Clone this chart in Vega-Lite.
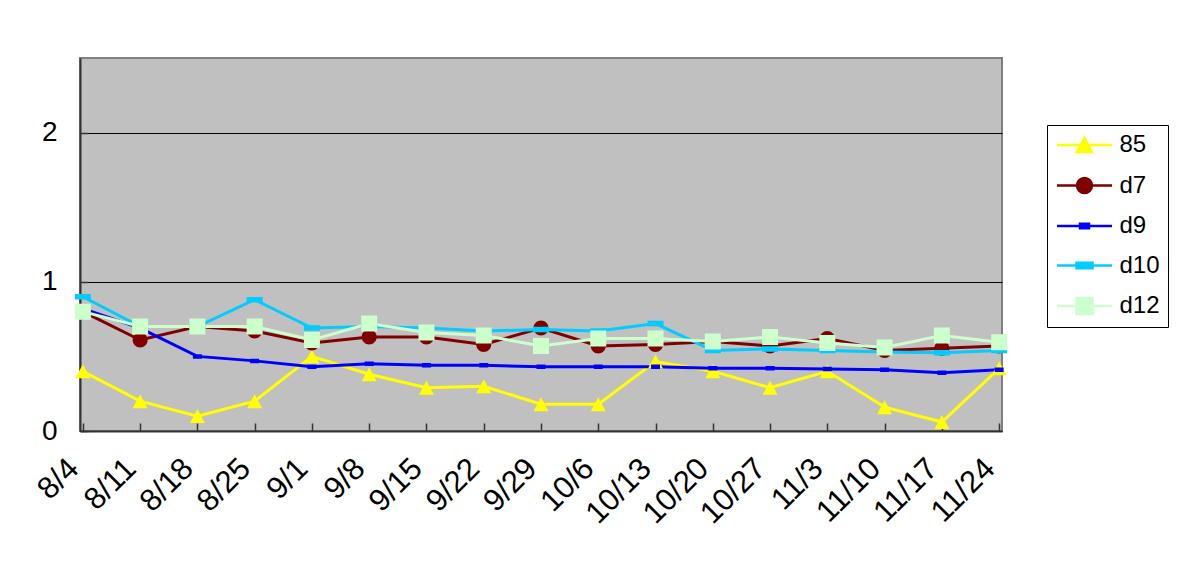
{
  "$schema": "https://vega.github.io/schema/vega-lite/v6.json",
  "width": 922,
  "height": 373,
  "autosize": {"type": "none"},
  "padding": {"left": 80, "top": 58, "right": 179, "bottom": 130},
  "background": "white",
  "config": {
    "font": "Liberation Sans",
    "view": {"fill": "#C0C0C0", "stroke": "#808080", "strokeWidth": 2},
    "legend": {
      "orient": "none",
      "legendX": 967,
      "legendY": 67,
      "fillColor": "white",
      "strokeColor": "black",
      "padding": 8,
      "rowPadding": 15.5,
      "labelFontSize": 24,
      "labelColor": "black",
      "labelFont": "Liberation Sans",
      "symbolSize": 100,
      "symbolStrokeWidth": 2.5,
      "symbolOffset": 17.5,
      "labelOffset": 23
    }
  },
  "data": {
    "values": [
      {"n": 1, "date": "8/4", "series": "85", "value": 0.40},
      {"n": 2, "date": "8/11", "series": "85", "value": 0.20},
      {"n": 3, "date": "8/18", "series": "85", "value": 0.10},
      {"n": 4, "date": "8/25", "series": "85", "value": 0.20},
      {"n": 5, "date": "9/1", "series": "85", "value": 0.50},
      {"n": 6, "date": "9/8", "series": "85", "value": 0.38},
      {"n": 7, "date": "9/15", "series": "85", "value": 0.29},
      {"n": 8, "date": "9/22", "series": "85", "value": 0.30},
      {"n": 9, "date": "9/29", "series": "85", "value": 0.18},
      {"n": 10, "date": "10/6", "series": "85", "value": 0.18},
      {"n": 11, "date": "10/13", "series": "85", "value": 0.465},
      {"n": 12, "date": "10/20", "series": "85", "value": 0.40},
      {"n": 13, "date": "10/27", "series": "85", "value": 0.29},
      {"n": 14, "date": "11/3", "series": "85", "value": 0.40},
      {"n": 15, "date": "11/10", "series": "85", "value": 0.16},
      {"n": 16, "date": "11/17", "series": "85", "value": 0.06},
      {"n": 17, "date": "11/24", "series": "85", "value": 0.42},
      {"n": 1, "date": "8/4", "series": "d7", "value": 0.80},
      {"n": 2, "date": "8/11", "series": "d7", "value": 0.61},
      {"n": 3, "date": "8/18", "series": "d7", "value": 0.70},
      {"n": 4, "date": "8/25", "series": "d7", "value": 0.67},
      {"n": 5, "date": "9/1", "series": "d7", "value": 0.59},
      {"n": 6, "date": "9/8", "series": "d7", "value": 0.63},
      {"n": 7, "date": "9/15", "series": "d7", "value": 0.63},
      {"n": 8, "date": "9/22", "series": "d7", "value": 0.58},
      {"n": 9, "date": "9/29", "series": "d7", "value": 0.69},
      {"n": 10, "date": "10/6", "series": "d7", "value": 0.57},
      {"n": 11, "date": "10/13", "series": "d7", "value": 0.58},
      {"n": 12, "date": "10/20", "series": "d7", "value": 0.60},
      {"n": 13, "date": "10/27", "series": "d7", "value": 0.57},
      {"n": 14, "date": "11/3", "series": "d7", "value": 0.62},
      {"n": 15, "date": "11/10", "series": "d7", "value": 0.54},
      {"n": 16, "date": "11/17", "series": "d7", "value": 0.555},
      {"n": 17, "date": "11/24", "series": "d7", "value": 0.57},
      {"n": 1, "date": "8/4", "series": "d9", "value": 0.82},
      {"n": 2, "date": "8/11", "series": "d9", "value": 0.69},
      {"n": 3, "date": "8/18", "series": "d9", "value": 0.50},
      {"n": 4, "date": "8/25", "series": "d9", "value": 0.47},
      {"n": 5, "date": "9/1", "series": "d9", "value": 0.43},
      {"n": 6, "date": "9/8", "series": "d9", "value": 0.45},
      {"n": 7, "date": "9/15", "series": "d9", "value": 0.44},
      {"n": 8, "date": "9/22", "series": "d9", "value": 0.44},
      {"n": 9, "date": "9/29", "series": "d9", "value": 0.43},
      {"n": 10, "date": "10/6", "series": "d9", "value": 0.43},
      {"n": 11, "date": "10/13", "series": "d9", "value": 0.43},
      {"n": 12, "date": "10/20", "series": "d9", "value": 0.42},
      {"n": 13, "date": "10/27", "series": "d9", "value": 0.42},
      {"n": 14, "date": "11/3", "series": "d9", "value": 0.415},
      {"n": 15, "date": "11/10", "series": "d9", "value": 0.41},
      {"n": 16, "date": "11/17", "series": "d9", "value": 0.39},
      {"n": 17, "date": "11/24", "series": "d9", "value": 0.41},
      {"n": 1, "date": "8/4", "series": "d10", "value": 0.90},
      {"n": 2, "date": "8/11", "series": "d10", "value": 0.70},
      {"n": 3, "date": "8/18", "series": "d10", "value": 0.70},
      {"n": 4, "date": "8/25", "series": "d10", "value": 0.88},
      {"n": 5, "date": "9/1", "series": "d10", "value": 0.69},
      {"n": 6, "date": "9/8", "series": "d10", "value": 0.70},
      {"n": 7, "date": "9/15", "series": "d10", "value": 0.69},
      {"n": 8, "date": "9/22", "series": "d10", "value": 0.67},
      {"n": 9, "date": "9/29", "series": "d10", "value": 0.68},
      {"n": 10, "date": "10/6", "series": "d10", "value": 0.67},
      {"n": 11, "date": "10/13", "series": "d10", "value": 0.72},
      {"n": 12, "date": "10/20", "series": "d10", "value": 0.54},
      {"n": 13, "date": "10/27", "series": "d10", "value": 0.55},
      {"n": 14, "date": "11/3", "series": "d10", "value": 0.54},
      {"n": 15, "date": "11/10", "series": "d10", "value": 0.53},
      {"n": 16, "date": "11/17", "series": "d10", "value": 0.525},
      {"n": 17, "date": "11/24", "series": "d10", "value": 0.54},
      {"n": 1, "date": "8/4", "series": "d12", "value": 0.80},
      {"n": 2, "date": "8/11", "series": "d12", "value": 0.70},
      {"n": 3, "date": "8/18", "series": "d12", "value": 0.70},
      {"n": 4, "date": "8/25", "series": "d12", "value": 0.70},
      {"n": 5, "date": "9/1", "series": "d12", "value": 0.61},
      {"n": 6, "date": "9/8", "series": "d12", "value": 0.72},
      {"n": 7, "date": "9/15", "series": "d12", "value": 0.66},
      {"n": 8, "date": "9/22", "series": "d12", "value": 0.64},
      {"n": 9, "date": "9/29", "series": "d12", "value": 0.57},
      {"n": 10, "date": "10/6", "series": "d12", "value": 0.62},
      {"n": 11, "date": "10/13", "series": "d12", "value": 0.62},
      {"n": 12, "date": "10/20", "series": "d12", "value": 0.60},
      {"n": 13, "date": "10/27", "series": "d12", "value": 0.63},
      {"n": 14, "date": "11/3", "series": "d12", "value": 0.59},
      {"n": 15, "date": "11/10", "series": "d12", "value": 0.56},
      {"n": 16, "date": "11/17", "series": "d12", "value": 0.64},
      {"n": 17, "date": "11/24", "series": "d12", "value": 0.595}
    ]
  },
  "encoding": {
    "x": {
      "field": "date",
      "type": "ordinal",
      "sort": null,
      "scale": {"type": "point", "padding": 0.05},
      "axis": {
        "title": null,
        "labelAngle": -45,
        "labelFontSize": 31,
        "labelColor": "black",
        "labelPadding": 30,
        "labelOffset": -20,
        "domainColor": "#333333",
        "domainWidth": 2,
        "tickColor": "#333333",
        "tickWidth": 1.5,
        "tickSize": -8,
        "grid": false
      }
    },
    "y": {
      "field": "value",
      "type": "quantitative",
      "scale": {"domain": [0, 2.5], "nice": false},
      "axis": {
        "title": null,
        "values": [0, 1, 2],
        "labelFontSize": 28,
        "labelColor": "black",
        "labelPadding": 31,
        "domainColor": "#333333",
        "domainWidth": 2,
        "tickColor": "#333333",
        "tickWidth": 1.5,
        "tickSize": -8,
        "grid": true,
        "gridColor": "#000000",
        "gridWidth": 1
      }
    }
  },
  "layer": [
    {
      "mark": {"type": "line", "strokeWidth": 3},
      "encoding": {
        "stroke": {
          "field": "series",
          "type": "nominal",
          "scale": {
            "domain": ["85", "d7", "d9", "d10", "d12"],
            "range": ["#FFFF00", "#800000", "#0000FF", "#00CCFF", "#CCFFCC"]
          },
          "legend": {"title": null}
        },
        "order": {"field": "n", "type": "quantitative"}
      }
    },
    {
      "mark": {"type": "point", "filled": true, "opacity": 1, "size": 100},
      "encoding": {
        "fill": {
          "field": "series",
          "type": "nominal",
          "scale": {
            "domain": ["85", "d7", "d9", "d10", "d12"],
            "range": ["#FFFF00", "#800000", "#0000FF", "#00CCFF", "#CCFFCC"]
          },
          "legend": {"title": null}
        },
        "shape": {
          "field": "series",
          "type": "nominal",
          "scale": {
            "domain": ["85", "d7", "d9", "d10", "d12"],
            "range": [
              "M-5.5,0H5.5M0,-1.4L1.5,1.4H-1.5Z",
              "M-5.5,0H5.5M-1.5,0A1.5,1.5,0,1,1,1.5,0A1.5,1.5,0,1,1,-1.5,0Z",
              "M-5.5,0H5.5M-0.9,-0.45H0.9V0.45H-0.9Z",
              "M-5.5,0H5.5M-1.6,-0.55H1.6V0.55H-1.6Z",
              "M-5.5,0H5.5M-1.6,-1.6H1.6V1.6H-1.6Z"
            ]
          },
          "legend": {"title": null}
        }
      }
    }
  ]
}
